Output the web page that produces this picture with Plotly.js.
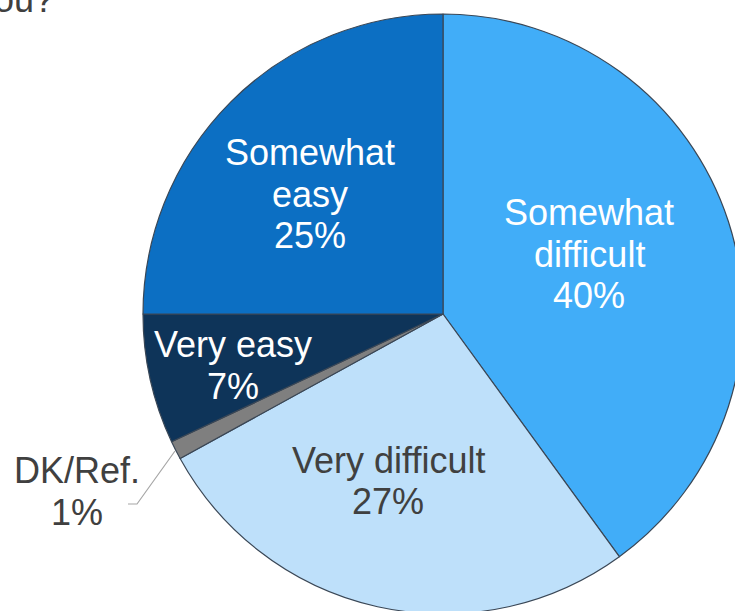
<!DOCTYPE html>
<html>
<head>
<meta charset="utf-8">
<script src="https://cdn.plot.ly/plotly-3.0.1.min.js"></script>
<style>
  html, body { margin: 0; padding: 0; overflow: hidden; background: #ffffff; }
  #chart { width: 760px; height: 630px; }
</style>
</head>
<body>
<div id="chart"></div>
<script>
// ---- data ----
const labels = ['Somewhat difficult', 'Very difficult', 'DK/Ref.', 'Very easy', 'Somewhat easy'];
const values = [40, 27, 1, 7, 25];
const titleFragment = 'you?';

// ---- styles / positions (not data) ----
const colors = ['#41ADF8', '#BEE0FA', '#7F7F7F', '#0E3459', '#0C6FC3'];
const textColors = ['#FFFFFF', '#404040', '#404040', '#FFFFFF', '#FFFFFF'];
const labelPos = [
  {x: 589, y0: 225},
  {x: 388, y0: 473},
  {x: 77,  y0: 483},
  {x: 233, y0: 357},
  {x: 310, y0: 165}
];
const lineGap = 41.5;
const fontSize = 36;

const W = 760, H = 630;
const px = x => x / W;
const py = y => 1 - y / H;

const annotations = [];
labels.forEach((lab, i) => {
  const lines = lab.replace('Somewhat ', 'Somewhat\n').split('\n');
  lines.push(values[i] + '%');
  lines.forEach((ln, k) => {
    const base = labelPos[i].y0 + k * lineGap;
    annotations.push({
      xref: 'paper', yref: 'paper',
      x: px(labelPos[i].x), y: py(base - 12.5),
      xanchor: 'center', yanchor: 'middle',
      text: ln, showarrow: false,
      font: {family: 'Liberation Sans, Arial, sans-serif', size: fontSize, color: textColors[i]}
    });
  });
});
annotations.push({
  xref: 'paper', yref: 'paper',
  x: px(56), y: py(12 - 12.5),
  xanchor: 'right', yanchor: 'middle',
  text: titleFragment, showarrow: false,
  font: {family: 'Liberation Sans, Arial, sans-serif', size: fontSize, color: '#404040'}
});

const cx = 443, cy = 314, r = 300;
const trace = {
  type: 'pie',
  labels: labels,
  values: values,
  sort: false,
  direction: 'clockwise',
  rotation: 0,
  textinfo: 'none',
  hoverinfo: 'label+percent',
  marker: {colors: colors, line: {color: '#3A4756', width: 1.2}},
  domain: {x: [px(cx - r), px(cx + r)], y: [py(cy + r), py(cy - r)]},
  showlegend: false
};

const leader = {
  type: 'path', xref: 'paper', yref: 'paper',
  path: 'M ' + px(128) + ',' + py(504) + ' L ' + px(137) + ',' + py(504) + ' L ' + px(175) + ',' + py(451),
  line: {color: '#A6A6A6', width: 1.2}
};

const layout = {
  width: W, height: H,
  margin: {l: 0, r: 0, t: 0, b: 0},
  paper_bgcolor: '#FFFFFF',
  plot_bgcolor: '#FFFFFF',
  showlegend: false,
  annotations: annotations,
  shapes: [leader]
};

Plotly.newPlot('chart', [trace], layout, {displayModeBar: false, staticPlot: true});
</script>
</body>
</html>
